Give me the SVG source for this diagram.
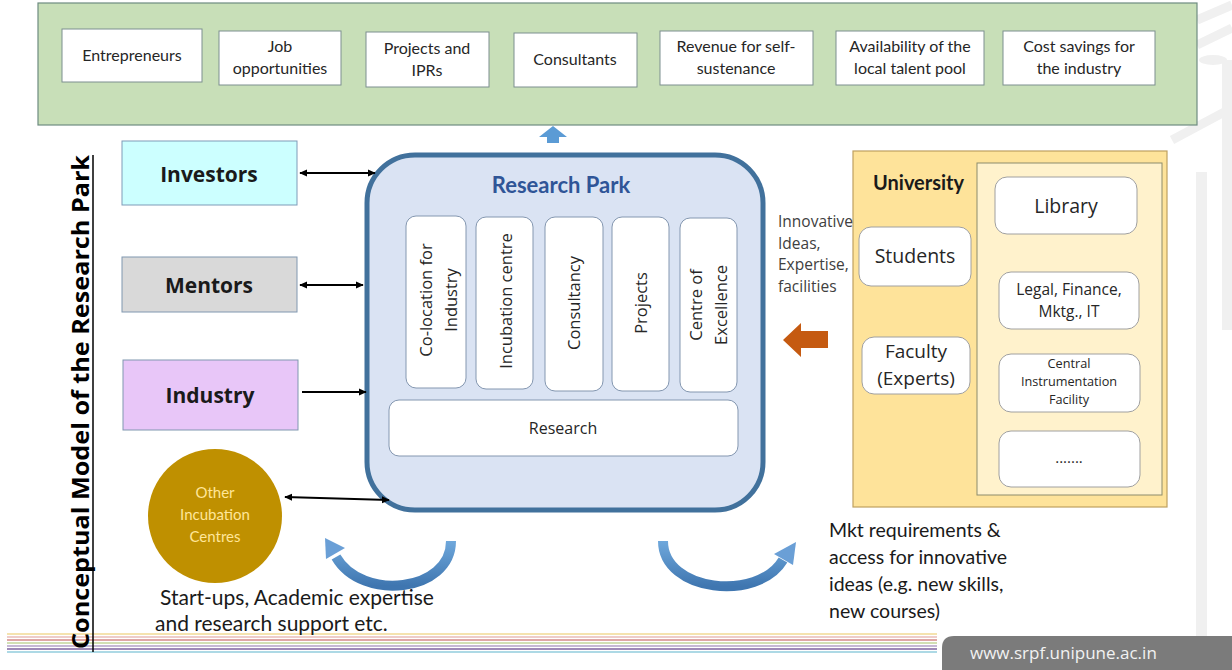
<svg xmlns="http://www.w3.org/2000/svg" width="1232" height="670" viewBox="0 0 1232 670">
<style>
.c{font-family:Lato,"Liberation Sans",sans-serif;fill:#262626}
.s{font-family:"Open Sans","Liberation Sans",sans-serif;fill:#262626}
.topbox{fill:#ffffff;stroke:#7d8f8f;stroke-width:1}
.col{fill:#ffffff;stroke:#8497b0;stroke-width:1}
.ubox{fill:#ffffff;stroke:#a0a0a0;stroke-width:1}
.conn{stroke:#000;stroke-width:2;fill:none}
.wm{fill:#f0f0f0}
</style>
<defs>
<marker id="ah" viewBox="0 0 10 10" refX="9" refY="5" markerWidth="4" markerHeight="4" orient="auto-start-reverse">
<path d="M0,0.5 L10,5 L0,9.5 z" fill="#000"/>
</marker>
<linearGradient id="blueg" x1="0" y1="0" x2="0" y2="1">
<stop offset="0" stop-color="#6fa8dc"/>
<stop offset="1" stop-color="#3f76b0"/>
</linearGradient>
</defs>
<rect width="1232" height="670" fill="#ffffff"/>

<g id="watermark">
<rect class="wm" x="1196" y="172" width="11" height="468"/>
<rect class="wm" x="1222" y="60" width="10" height="270"/>
<path d="M1197 20 L1232 5 M1197 45 L1232 28 M1172 140 L1232 108" stroke="#f0f0f0" stroke-width="9" fill="none"/>
<ellipse cx="1213" cy="60" rx="14" ry="5" class="wm"/>
</g>

<g id="stripes">
<line x1="7" y1="634" x2="937" y2="634" stroke="#f2da95" stroke-width="1.6"/>
<line x1="7" y1="637" x2="937" y2="637" stroke="#e8bcb9" stroke-width="1.6"/>
<line x1="7" y1="640" x2="937" y2="640" stroke="#d48a88" stroke-width="1.6"/>
<line x1="7" y1="643" x2="937" y2="643" stroke="#c3d69b" stroke-width="1.6"/>
<line x1="7" y1="646" x2="937" y2="646" stroke="#b3a2c7" stroke-width="1.6"/>
<line x1="7" y1="649" x2="937" y2="649" stroke="#7e639f" stroke-width="1.6"/>
<line x1="7" y1="652" x2="937" y2="652" stroke="#92cddc" stroke-width="1.6"/>
</g>

<g id="footer">
<path d="M954 636 L1232 636 L1232 670 L942 670 L942 648 Q942 636 954 636 Z" fill="#7b7b7b"/>
<text x="970" y="659" style="font-family:'Open Sans','Liberation Sans',sans-serif;font-size:17px;fill:#f2f2f2">www.srpf.unipune.ac.in</text>
</g>

<g id="title">
<text class="s" transform="translate(89,402) rotate(-90)" text-anchor="middle" style="font-size:22.5px;font-weight:bold;fill:#000" textLength="494" lengthAdjust="spacingAndGlyphs">Conceptual Model of the Research Park</text>
<line x1="93" y1="155" x2="93" y2="652" stroke="#000" stroke-width="1.5"/>
</g>

<g id="outcomes">
<rect x="38" y="3" width="1159" height="122" fill="#c8dfb8" stroke="#6e8c80" stroke-width="1.2"/>
<g id="entrepreneurs"><rect class="topbox" x="62" y="29" width="140" height="53"/><text class="c" x="132" y="61" text-anchor="middle" font-size="16">Entrepreneurs</text></g>
<g id="jobs"><rect class="topbox" x="219" y="31" width="122" height="54"/><text class="c" x="280" y="52" text-anchor="middle" font-size="16">Job</text><text class="c" x="280" y="74" text-anchor="middle" font-size="16">opportunities</text></g>
<g id="projects-iprs"><rect class="topbox" x="366" y="32" width="123" height="55"/><text class="c" x="427" y="54" text-anchor="middle" font-size="16">Projects and</text><text class="c" x="427" y="76" text-anchor="middle" font-size="16">IPRs</text></g>
<g id="consultants"><rect class="topbox" x="514" y="33" width="123" height="54"/><text class="c" x="575" y="65" text-anchor="middle" font-size="16">Consultants</text></g>
<g id="revenue"><rect class="topbox" x="660" y="31" width="153" height="54"/><text class="c" x="736" y="52" text-anchor="middle" font-size="16">Revenue for self-</text><text class="c" x="736" y="74" text-anchor="middle" font-size="16">sustenance</text></g>
<g id="talent"><rect class="topbox" x="836" y="31" width="148" height="54"/><text class="c" x="910" y="52" text-anchor="middle" font-size="16">Availability of the</text><text class="c" x="910" y="74" text-anchor="middle" font-size="16">local talent  pool</text></g>
<g id="cost"><rect class="topbox" x="1003" y="31" width="152" height="54"/><text class="c" x="1079" y="52" text-anchor="middle" font-size="16">Cost savings for</text><text class="c" x="1079" y="74" text-anchor="middle" font-size="16">the industry</text></g>
</g>

<g id="investors"><rect x="122" y="141" width="175" height="64" fill="#ccffff" stroke="#7f9bb8" stroke-width="1"/><text class="s" x="209" y="182" text-anchor="middle" style="font-size:21px;font-weight:bold;fill:#1a1a1a">Investors</text></g>
<g id="mentors"><rect x="122" y="257" width="175" height="55" fill="#d9d9d9" stroke="#8097b0" stroke-width="1"/><text class="s" x="209" y="293" text-anchor="middle" style="font-size:21px;font-weight:bold;fill:#1a1a1a">Mentors</text></g>
<g id="industry"><rect x="123" y="360" width="175" height="70" fill="#e8c6f8" stroke="#8097b0" stroke-width="1"/><text class="s" x="210" y="403" text-anchor="middle" style="font-size:21px;font-weight:bold;fill:#1a1a1a">Industry</text></g>
<g id="other-incubation"><circle cx="215" cy="516" r="67" fill="#bf9000"/><text class="c" x="215" y="498" text-anchor="middle" style="font-size:15px;fill:#ffe699">Other</text><text class="c" x="215" y="520" text-anchor="middle" style="font-size:15px;fill:#ffe699">Incubation</text><text class="c" x="215" y="542" text-anchor="middle" style="font-size:15px;fill:#ffe699">Centres</text></g>

<g id="research-park">
<rect x="367" y="155" width="396" height="355" rx="48" fill="#dae3f3" stroke="#41719c" stroke-width="5"/>
<text class="c" x="561" y="193" text-anchor="middle" style="font-size:22px;font-weight:bold;fill:#2f5597">Research Park</text>
<g id="colocation"><rect class="col" x="406" y="216" width="60" height="172" rx="10"/><text class="s" transform="translate(436,300) rotate(-90)" text-anchor="middle" font-size="16.5"><tspan x="0" y="-4">Co-location for</tspan><tspan x="0" y="21">Industry</tspan></text></g>
<g id="incubation"><rect class="col" x="476" y="217" width="57" height="172" rx="10"/><text class="s" transform="translate(504.5,301) rotate(-90)" text-anchor="middle" font-size="16.5" y="7">Incubation centre</text></g>
<g id="consultancy"><rect class="col" x="545" y="217" width="58" height="174" rx="10"/><text class="s" transform="translate(574,303) rotate(-90)" text-anchor="middle" font-size="16.5" y="6">Consultancy</text></g>
<g id="projects"><rect class="col" x="612" y="217" width="57" height="174" rx="10"/><text class="s" transform="translate(640.5,303) rotate(-90)" text-anchor="middle" font-size="16.5" y="6">Projects</text></g>
<g id="excellence"><rect class="col" x="680" y="218" width="57" height="174" rx="10"/><text class="s" transform="translate(708.5,305) rotate(-90)" text-anchor="middle" font-size="16.5"><tspan x="0" y="-7">Centre of</tspan><tspan x="0" y="18">Excellence</tspan></text></g>
<g id="research"><rect class="col" x="389" y="400" width="349" height="56" rx="10"/><text class="s" x="563" y="434" text-anchor="middle" font-size="16">Research</text></g>
</g>

<g id="university">
<rect x="853" y="151" width="314" height="356" fill="#fee39a" stroke="#bfa060" stroke-width="1.2"/>
<rect x="977" y="163" width="185" height="332" fill="#fff2cc" stroke="#8c8c6c" stroke-width="1"/>
<text class="c" x="873" y="190" style="font-size:20px;font-weight:bold;fill:#1a1a1a">University</text>
<g id="students"><rect class="ubox" x="859" y="227" width="112" height="59" rx="12"/><text class="s" x="915" y="263" text-anchor="middle" font-size="19.5">Students</text></g>
<g id="faculty"><rect class="ubox" x="862" y="337" width="108" height="57" rx="12"/><text class="s" x="916" y="358" text-anchor="middle" font-size="19">Faculty</text><text class="s" x="916" y="385" text-anchor="middle" font-size="19">(Experts)</text></g>
<g id="library"><rect class="ubox" x="995" y="177" width="142" height="57" rx="12"/><text class="s" x="1066" y="213" text-anchor="middle" font-size="19.5">Library</text></g>
<g id="legal"><rect class="ubox" x="999" y="272" width="140" height="57" rx="12"/><text class="s" x="1069" y="295" text-anchor="middle" font-size="15.5">Legal, Finance,</text><text class="s" x="1069" y="317" text-anchor="middle" font-size="15.5">Mktg., IT</text></g>
<g id="cif"><rect class="ubox" x="999" y="354" width="141" height="58" rx="12"/><text class="s" x="1069" y="368" text-anchor="middle" font-size="12.7">Central</text><text class="s" x="1069" y="386" text-anchor="middle" font-size="12.7">Instrumentation</text><text class="s" x="1069" y="404" text-anchor="middle" font-size="12.7">Facility</text></g>
<g id="more"><rect class="ubox" x="999" y="431" width="141" height="56" rx="12"/><text class="s" x="1069" y="463" text-anchor="middle" font-size="15">.......</text></g>
</g>

<g id="connectors">
<line class="conn" x1="300" y1="173" x2="375" y2="173" marker-start="url(#ah)" marker-end="url(#ah)"/>
<line class="conn" x1="300" y1="285" x2="363" y2="285" marker-start="url(#ah)" marker-end="url(#ah)"/>
<line class="conn" x1="302" y1="392" x2="366" y2="392" marker-end="url(#ah)"/>
<line class="conn" x1="285" y1="497" x2="389" y2="500" marker-start="url(#ah)" marker-end="url(#ah)"/>
<polygon points="539,137 553,126 567,137 559,137 559,143 547,143 547,137" fill="#5b9bd5"/>
<polygon points="783,340 801,323 801,331 828,331 828,348 801,348 801,357" fill="#c55a11"/>
<path d="M451 541 C451 592 362 602 336 557" stroke="url(#blueg)" stroke-width="10" fill="none"/>
<polygon points="325,538 345,548 326,559" fill="#6a9fd6"/>
<path d="M663 541 C663 592 758 602 783 560" stroke="url(#blueg)" stroke-width="10" fill="none"/>
<polygon points="796,542 793,565 774,554" fill="#6a9fd6"/>
</g>

<g id="labels">
<text class="s" font-size="15.5" style="fill:#404040"><tspan x="778" y="227">Innovative</tspan><tspan x="778" y="249">Ideas,</tspan><tspan x="778" y="270">Expertise,</tspan><tspan x="778" y="292">facilities</tspan></text>
<text class="c" font-size="21" style="fill:#1a1a1a"><tspan x="160" y="605">Start-ups,  Academic expertise</tspan><tspan x="155" y="631">and research support etc.</tspan></text>
<text class="c" font-size="19.5" style="fill:#1a1a1a"><tspan x="829" y="537">Mkt requirements &amp;</tspan><tspan x="829" y="564">access for innovative</tspan><tspan x="829" y="591">ideas (e.g. new skills,</tspan><tspan x="829" y="618">new courses)</tspan></text>
</g>
</svg>
